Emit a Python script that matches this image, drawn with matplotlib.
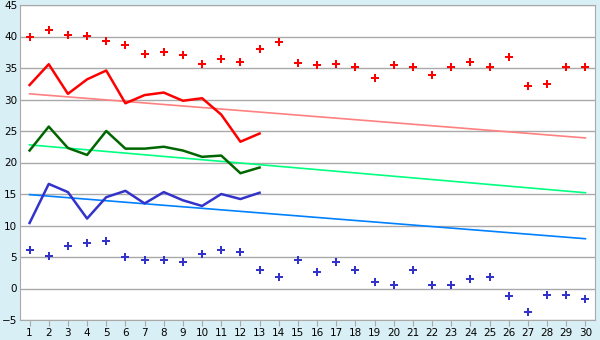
import matplotlib
matplotlib.use("Agg")
import matplotlib.pyplot as plt

days = list(range(1, 31))

# record highs (red points) and record lows (blue points)
rec_high = [39.9, 41.0, 40.3, 40.1, 39.3, 38.7, 37.3, 37.5, 37.1, 35.7,
            36.5, 36.0, 38.0, 39.1, 35.8, 35.4, 35.6, 35.1, 33.4, 35.4,
            35.2, 33.9, 35.1, 36.0, 35.1, 36.8, 32.2, 32.4, 35.1, 35.2]
rec_low = [6.1, 5.1, 6.7, 7.2, 7.6, 5.0, 4.5, 4.6, 4.2, 5.4,
           6.1, 5.8, 3.0, 1.9, 4.5, 2.6, 4.2, 3.0, 1.0, 0.5,
           2.9, 0.6, 0.5, 1.5, 1.8, -1.2, -3.7, -1.1, -1.1, -1.7]

# measured this month (days 1-13)
obs_days = list(range(1, 14))
obs_max = [32.3, 35.6, 30.9, 33.2, 34.6, 29.4, 30.7, 31.1, 29.8, 30.2, 27.6, 23.3, 24.6]
obs_mean = [21.9, 25.7, 22.3, 21.2, 25.0, 22.2, 22.2, 22.5, 21.9, 20.9, 21.1, 18.3, 19.2]
obs_min = [10.4, 16.6, 15.3, 11.1, 14.5, 15.5, 13.5, 15.3, 14.0, 13.1, 15.0, 14.2, 15.2]

# normals: value on day 1 and day 30
trend_days = [1, 30]
norm_max = [30.9, 23.9]
norm_mean = [22.8, 15.2]
norm_min = [14.9, 7.9]

grid_col = "#A9A9A9"

fig = plt.figure(figsize=(6, 3.4), dpi=100)
fig.patch.set_facecolor("#D9EFF6")
ax = fig.add_axes([20 / 600, 20 / 340, 575 / 600, 315 / 340])
ax.set_facecolor("white")

ax.plot(trend_days, norm_max, color="#FF8080", lw=1.2)
ax.plot(trend_days, norm_mean, color="#00FF80", lw=1.2)
ax.plot(trend_days, norm_min, color="#0080FF", lw=1.2)

ax.plot(obs_days, obs_max, color="#FF0000", lw=1.8)
ax.plot(obs_days, obs_mean, color="#006600", lw=1.8)
ax.plot(obs_days, obs_min, color="#3333CC", lw=1.8)

ax.plot(days, rec_high, ls="none", marker="P", ms=6, color="#FF0000", mew=0)
ax.plot(days, rec_low, ls="none", marker="P", ms=6, color="#3333CC", mew=0)

ax.set_xlim(0.5, 30.5)
ax.set_ylim(-5, 45)
ax.set_xticks(days)
ax.set_yticks(range(-5, 50, 5))
ax.yaxis.grid(True, color=grid_col, lw=1)
ax.set_axisbelow(True)
for s in ax.spines.values():
    s.set_color(grid_col)
ax.tick_params(axis="x", colors=grid_col, length=4, labelcolor="black", labelsize=7.5, pad=2)
ax.tick_params(axis="y", length=0, labelcolor="black", labelsize=7.5, pad=2)

fig.savefig("out.png", dpi=100, facecolor=fig.get_facecolor())
